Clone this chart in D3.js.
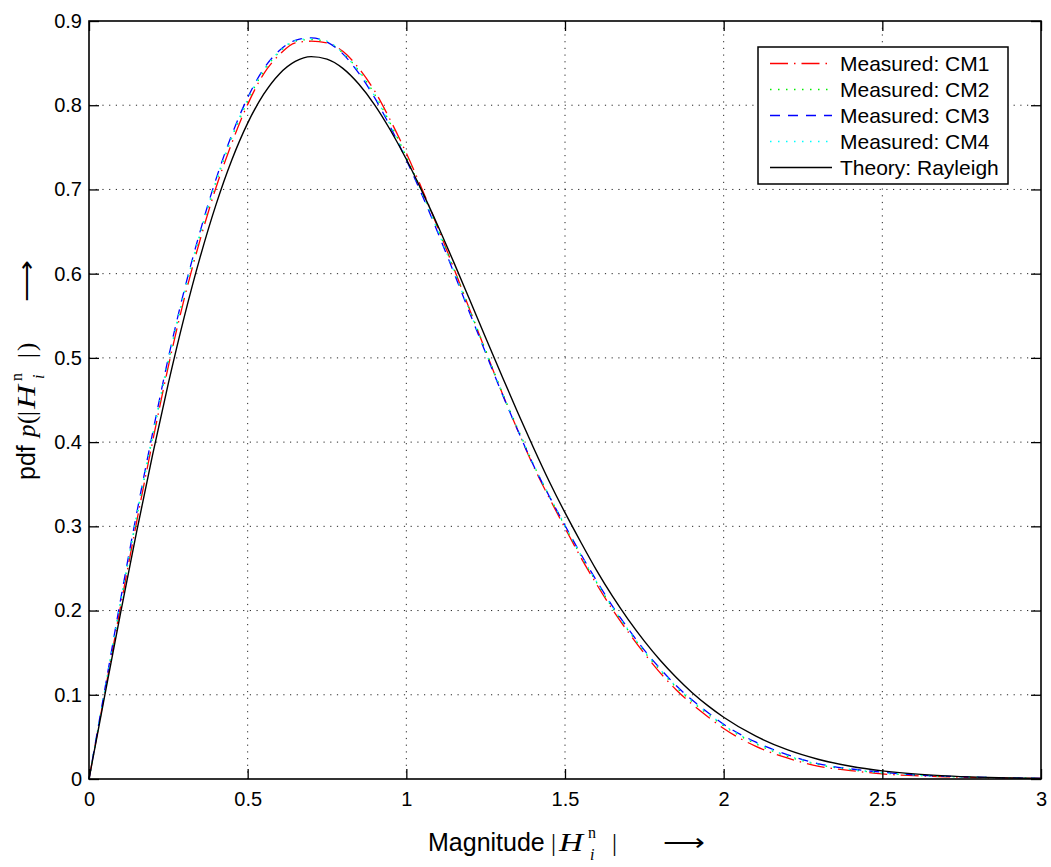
<!DOCTYPE html>
<html>
<head>
<meta charset="utf-8">
<script src="https://cdn.jsdelivr.net/npm/d3@7"></script>
<style>
  html, body { margin: 0; padding: 0; background: #fff; }
  svg { display: block; }
</style>
</head>
<body>
<svg id="chart" width="1051" height="867"></svg>
<script>
// ---------------- data ----------------
const xs = [0,0.05,0.1,0.15,0.2,0.25,0.3,0.35,0.4,0.45,0.5,0.55,0.6,0.65,0.7,0.75,0.8,0.85,0.9,0.95,
            1.0,1.05,1.1,1.15,1.2,1.25,1.3,1.35,1.4,1.45,1.5,1.55,1.6,1.65,1.7,1.75,1.8,1.85,1.9,1.95,
            2.0,2.1,2.2,2.3,2.4,2.5,2.6,2.7,2.8,2.9,3.0];

const cm1 = [0,.103,.206,.305,.400,.490,.570,.640,.702,.755,.801,.837,.860,.874,.876,.874,.864,.844,.817,.782,
             .743,.700,.654,.606,.557,.508,.460,.415,.372,.334,.298,.263,.231,.201,.174,.149,.126,.106,.089,.074,
             .060,.039,.025,.015,.010,.006,.004,.0026,.0017,.001,.0006];
const cm2 = [0,.105,.210,.310,.405,.495,.576,.646,.708,.761,.805,.840,.863,.876,.878,.875,.862,.841,.813,.778,
             .739,.697,.652,.605,.557,.509,.461,.417,.374,.336,.300,.265,.233,.203,.176,.151,.129,.109,.092,.077,
             .063,.042,.027,.017,.011,.007,.0045,.003,.002,.0012,.0007];
const cm3 = [0,.107,.214,.315,.410,.500,.580,.650,.712,.765,.809,.843,.865,.877,.880,.875,.861,.838,.809,.774,
             .735,.693,.648,.601,.553,.506,.459,.415,.373,.336,.301,.267,.235,.205,.178,.153,.131,.111,.094,.079,
             .065,.044,.029,.018,.012,.008,.005,.0033,.0022,.0013,.0008];
const cm4 = [0,.106,.212,.313,.408,.498,.578,.648,.710,.763,.807,.842,.864,.877,.879,.876,.862,.840,.811,.776,
             .737,.695,.650,.603,.555,.507,.460,.416,.374,.337,.301,.266,.234,.204,.177,.152,.130,.110,.093,.078,
             .064,.043,.028,.0175,.0115,.0075,.0048,.0032,.0021,.0013,.0008];
const theory = [0,.0998,.198,.2933,.3843,.4697,.5484,.6193,.6817,.7350,.7788,.8128,.8372,.8520,.8577,.8547,.8437,.8251,.8005,.7703,
                .7358,.6974,.6563,.6131,.5687,.5240,.4797,.4361,.3940,.3536,.3162,.2811,.2474,.2167,.1889,.1637,.1410,.1208,.1028,.0871,
                .0733,.0511,.0348,.0232,.0151,.00965,.00603,.00369,.00221,.00129,.00074];

const seriesNames = ["Measured: CM1","Measured: CM2","Measured: CM3","Measured: CM4","Theory: Rayleigh"];
const xTicks = [0,0.5,1,1.5,2,2.5,3];
const xTickLabels = ["0","0.5","1","1.5","2","2.5","3"];
const yTicks = [0,0.1,0.2,0.3,0.4,0.5,0.6,0.7,0.8,0.9];
const yTickLabels = ["0","0.1","0.2","0.3","0.4","0.5","0.6","0.7","0.8","0.9"];

// ---------------- drawing ----------------
const svg = d3.select("#chart");
svg.append("rect").attr("width",1051).attr("height",867).attr("fill","#fff");

const L = 89, R = 1041, T = 21, B = 779;
const x = d3.scaleLinear().domain([0,3]).range([L,R]);
const y = d3.scaleLinear().domain([0,0.9]).range([B,T]);

const tickFont = "'Liberation Sans', Arial, Helvetica, sans-serif";

// grid
const grid = svg.append("g").attr("stroke","#000").attr("stroke-width",1)
  .attr("stroke-dasharray","1.2,5.5").attr("opacity",0.85);
xTicks.slice(1,-1).forEach(t => grid.append("line")
  .attr("x1",x(t)).attr("x2",x(t)).attr("y1",T).attr("y2",B));
yTicks.slice(1,-1).forEach(t => grid.append("line")
  .attr("x1",L).attr("x2",R).attr("y1",y(t)).attr("y2",y(t)));

// curves
const styles = [
  {data: cm1, color:"#ff0000", dash:"18,6,1.5,6", w:1.3},
  {data: cm2, color:"#00ee00", dash:"1.5,6.5",    w:1.3},
  {data: cm3, color:"#0000ff", dash:"10,8",       w:1.3},
  {data: cm4, color:"#00ffff", dash:"1.5,6.5",    w:1.3},
  {data: theory, color:"#000000", dash:null,      w:1.4}
];
const line = d3.line().x(d => x(d[0])).y(d => y(d[1])).curve(d3.curveMonotoneX);
const plot = svg.append("g");
styles.forEach(s => {
  const p = plot.append("path")
    .attr("d", line(xs.map((v,i) => [v, s.data[i]])))
    .attr("fill","none").attr("stroke",s.color).attr("stroke-width",s.w);
  if (s.dash) p.attr("stroke-dasharray", s.dash);
});

// axes
function styleAxis(g) {
  g.select(".domain").remove();
  g.selectAll(".tick line").attr("stroke","#000").attr("stroke-width",1.3);
  g.selectAll(".tick text").attr("fill","#000").attr("font-family",tickFont).attr("font-size",20);
}
svg.append("g").attr("transform",`translate(0,${B})`)
  .call(d3.axisBottom(x).tickValues(xTicks).tickFormat((d,i)=>xTickLabels[i]).tickSize(-10).tickPadding(13))
  .call(styleAxis);
svg.append("g").attr("transform",`translate(${L},0)`)
  .call(d3.axisLeft(y).tickValues(yTicks).tickFormat((d,i)=>yTickLabels[i]).tickSize(-10).tickPadding(7))
  .call(styleAxis);
svg.append("g").attr("transform",`translate(0,${T})`)
  .call(d3.axisTop(x).tickValues(xTicks).tickFormat("").tickSize(-10)).call(styleAxis);
svg.append("g").attr("transform",`translate(${R},0)`)
  .call(d3.axisRight(y).tickValues(yTicks).tickFormat("").tickSize(-10)).call(styleAxis);

svg.append("rect").attr("x",L).attr("y",T).attr("width",R-L).attr("height",B-T)
  .attr("fill","none").attr("stroke","#000").attr("stroke-width",1.6);

// legend
const lg = svg.append("g");
lg.append("rect").attr("x",758).attr("y",47).attr("width",250).attr("height",137)
  .attr("fill","#fff").attr("stroke","#000").attr("stroke-width",1.5);
seriesNames.forEach((name,i) => {
  const cy = 63.5 + i*26;
  const s = styles[i];
  const ln = lg.append("line").attr("x1",770).attr("x2",832).attr("y1",cy).attr("y2",cy)
    .attr("stroke",s.color).attr("stroke-width",s.w);
  if (s.dash) ln.attr("stroke-dasharray", s.dash);
  lg.append("text").attr("x",840).attr("y",cy+7.5).text(name)
    .attr("font-family",tickFont).attr("font-size",21).attr("fill","#000");
});

// axis titles
const sans = "'Liberation Sans', Arial, Helvetica, sans-serif";
const serif = "'Liberation Serif', 'Times New Roman', serif";
function mathLabel(g, parts) {
  parts.forEach(p => {
    const t = g.append("text").attr("x",p.x).attr("y",p.y).text(p.t)
      .attr("font-family",p.f).attr("font-size",p.s).attr("fill","#000");
    if (p.it) t.attr("font-style","italic");
    if (p.len) t.attr("textLength",p.len).attr("lengthAdjust","spacingAndGlyphs");
  });
}
// x title
const xt = svg.append("g");
mathLabel(xt, [
  {t:"Magnitude", x:428, y:851, f:sans, s:25},
  {t:"|", x:551, y:851, f:serif, s:25},
  {t:"H", x:559, y:851, f:serif, s:26, it:true, len:24},
  {t:"n", x:588, y:838, f:serif, s:16},
  {t:"i", x:590, y:860, f:serif, s:16, it:true},
  {t:"|", x:612, y:851, f:serif, s:25},
  {t:"\u27F6", x:663, y:851, f:serif, s:25, len:42}
]);
// y title (rotated)
const yt = svg.append("g").attr("transform","translate(35,480) rotate(-90)");
mathLabel(yt, [
  {t:"pdf", x:0, y:0, f:sans, s:25},
  {t:"p", x:43, y:0, f:serif, s:25, it:true},
  {t:"(", x:56, y:0, f:serif, s:25},
  {t:"|", x:64, y:0, f:serif, s:25},
  {t:"H", x:71, y:0, f:serif, s:26, it:true, len:24},
  {t:"n", x:99, y:-13, f:serif, s:16},
  {t:"i", x:101, y:9, f:serif, s:16, it:true},
  {t:"|", x:122, y:0, f:serif, s:25},
  {t:")", x:129, y:0, f:serif, s:25},
  {t:"\u27F6", x:178, y:0, f:serif, s:25, len:42}
]);
</script>
</body>
</html>
